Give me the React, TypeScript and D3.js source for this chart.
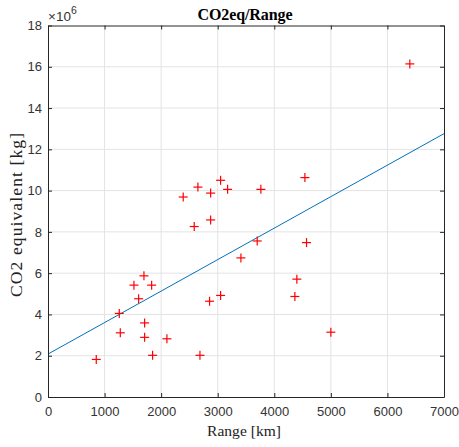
import React, { useEffect, useRef } from 'react';
import * as d3 from 'd3';

// range in km
const ranges = [
  853, 1260, 1278, 1519, 1602, 1696, 1708, 1708, 1832, 1849,
  2102, 2390, 2585, 2650, 2686, 2856, 2875, 2875, 3051, 3051,
  3175, 3410, 3698, 3763, 4364, 4399, 4541, 4570, 5000, 6396,
];
// CO2 equivalent, x10^6 kg
const co2 = [
  1.82, 4.05, 3.11, 5.42, 4.76, 5.87, 3.59, 2.89, 5.42, 2.02,
  2.82, 9.69, 8.26, 10.17, 2.02, 4.64, 9.88, 8.58, 10.50, 4.92,
  10.06, 6.74, 7.56, 10.06, 4.87, 5.71, 10.63, 7.48, 3.14, 16.14,
];
// linear fit (x10^6 kg), intercept and slope per km
const fitIntercept = 2.08;
const fitSlope = 0.0015257;

const xTicks = [0, 1000, 2000, 3000, 4000, 5000, 6000, 7000];
const yTicks = [0, 2, 4, 6, 8, 10, 12, 14, 16, 18];

const W = 459, H = 447;
const m = { left: 48, right: 15, top: 25.5, bottom: 50 };

export default function App() {
  const ref = useRef<SVGSVGElement>(null);

  useEffect(() => {
    const svg = d3.select(ref.current);
    svg.selectAll('*').remove();
    const iw = W - m.left - m.right;
    const ih = H - m.top - m.bottom;
    const x = d3.scaleLinear().domain([0, 7000]).range([0, iw]);
    const y = d3.scaleLinear().domain([0, 18]).range([ih, 0]);
    const axisColor = '#262626';
    const tickFont = '"Liberation Sans", Arial, sans-serif';

    const g = svg.append('g').attr('transform', `translate(${m.left},${m.top})`);
    g.append('rect').attr('width', iw).attr('height', ih).attr('fill', '#fff');

    // grid
    g.append('g').selectAll('line').data(xTicks.slice(1, -1)).join('line')
      .attr('x1', d => x(d)).attr('x2', d => x(d)).attr('y1', 0).attr('y2', ih)
      .attr('stroke', '#e3e3e3').attr('stroke-width', 1);
    g.append('g').selectAll('line').data(yTicks.slice(1, -1)).join('line')
      .attr('y1', d => y(d)).attr('y2', d => y(d)).attr('x1', 0).attr('x2', iw)
      .attr('stroke', '#e3e3e3').attr('stroke-width', 1);

    // fit line
    g.append('line')
      .attr('x1', x(0)).attr('y1', y(fitIntercept))
      .attr('x2', x(7000)).attr('y2', y(fitIntercept + fitSlope * 7000))
      .attr('stroke', '#0072BD').attr('stroke-width', 1);

    // markers
    const s = 4.5;
    const pts = g.append('g').selectAll('g').data(ranges.map((r, i) => [r, co2[i]])).join('g')
      .attr('transform', d => `translate(${x(d[0])},${y(d[1])})`);
    pts.append('line').attr('x1', -s).attr('x2', s).attr('stroke', '#ff0000').attr('stroke-width', 1.2);
    pts.append('line').attr('y1', -s).attr('y2', s).attr('stroke', '#ff0000').attr('stroke-width', 1.2);

    // axes
    const bottom = g.append('g').attr('transform', `translate(0,${ih})`)
      .call(d3.axisBottom(x).tickValues(xTicks).tickSizeInner(-4).tickSizeOuter(0).tickPadding(10).tickFormat(d3.format('d')));
    const left = g.append('g')
      .call(d3.axisLeft(y).tickValues(yTicks).tickSizeInner(-4).tickSizeOuter(0).tickPadding(6).tickFormat(d3.format('d')));
    g.append('g').attr('transform', `translate(0,0)`)
      .call(d3.axisTop(x).tickValues(xTicks).tickSizeInner(-4).tickSizeOuter(0).tickFormat(() => ''));
    g.append('g').attr('transform', `translate(${iw},0)`)
      .call(d3.axisRight(y).tickValues(yTicks).tickSizeInner(-4).tickSizeOuter(0).tickFormat(() => ''));
    svg.selectAll('.domain').attr('stroke', axisColor);
    svg.selectAll('.tick line').attr('stroke', axisColor);
    [bottom, left].forEach(a => a.selectAll('text')
      .attr('font-family', tickFont).attr('font-size', 13).attr('fill', '#333'));

    // exponent
    const ex = svg.append('text').attr('x', m.left).attr('y', 20.5)
      .attr('font-family', tickFont).attr('font-size', 13.5).attr('fill', '#333');
    ex.append('tspan').text('×10');
    ex.append('tspan').attr('dy', -7).attr('font-size', 10.5).text('6');

    // labels
    svg.append('text').attr('x', m.left + iw / 2 - 1).attr('y', 20)
      .attr('text-anchor', 'middle').attr('font-family', '"Liberation Serif", serif')
      .attr('font-weight', 'bold').attr('font-size', 16).attr('fill', '#000')
      .attr('textLength', 95).attr('lengthAdjust', 'spacing')
      .text('CO2eq/Range');
    svg.append('text').attr('x', m.left + iw / 2 - 2).attr('y', 436)
      .attr('text-anchor', 'middle').attr('font-family', '"Liberation Serif", serif')
      .attr('font-size', 15.5).attr('fill', '#222')
      .attr('textLength', 74).attr('lengthAdjust', 'spacing')
      .text('Range [km]');
    svg.append('text').attr('transform', `translate(22,215) rotate(-90)`)
      .attr('text-anchor', 'middle').attr('font-family', '"Liberation Serif", serif')
      .attr('font-size', 17.5).attr('fill', '#222')
      .attr('textLength', 164).attr('lengthAdjust', 'spacing')
      .text('CO2 equivalent [kg]');
  }, []);

  return (
    <svg ref={ref} width={W} height={H}
      style={{ position: 'absolute', left: 0, top: 0, background: '#fff', display: 'block' }} />
  );
}
